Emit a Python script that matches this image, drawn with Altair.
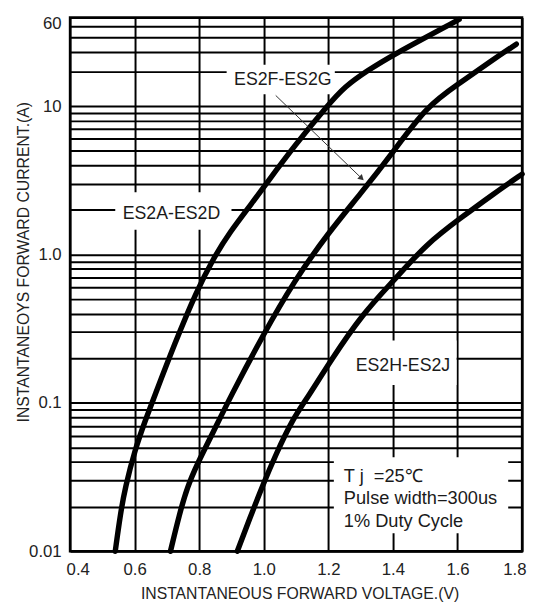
import altair as alt
import pandas as pd

# ---- data (forward voltage in V, forward current in A) ----
ES2A_V = [0.540, 0.556, 0.571, 0.601, 0.632, 0.659, 0.723, 0.793, 0.845, 0.894, 0.967, 1.007, 1.098, 1.196, 1.251, 1.321, 1.394, 1.605]
ES2A_I = [0.010, 0.0179, 0.027, 0.0483, 0.0751, 0.107, 0.248, 0.574, 0.95, 1.41, 2.27, 2.99, 5.51, 10.0, 14.9, 20.5, 27.6, 57.6]

ES2F_V = [0.711, 0.739, 0.763, 0.793, 0.845, 0.894, 0.995, 1.095, 1.199, 1.300, 1.400, 1.504, 1.605, 1.705, 1.782]
ES2F_I = [0.010, 0.0179, 0.027, 0.0384, 0.0645, 0.107, 0.280, 0.669, 1.39, 2.57, 4.88, 10.0, 15.8, 25.0, 35.0]

ES2H_V = [0.918, 0.955, 0.998, 1.037, 1.089, 1.135, 1.208, 1.306, 1.403, 1.504, 1.608, 1.708, 1.800]
ES2H_I = [0.010, 0.0163, 0.0283, 0.0447, 0.0775, 0.108, 0.194, 0.398, 0.669, 1.18, 1.75, 2.53, 3.48]

SERIES = ["ES2A-ES2D", "ES2F-ES2G", "ES2H-ES2J"]

X_TICKS = [0.4, 0.6, 0.8, 1.0, 1.2, 1.4, 1.6, 1.8]
Y_GRID = [0.01, 0.02, 0.03, 0.04, 0.05, 0.06, 0.07, 0.08, 0.09,
          0.1, 0.2, 0.3, 0.4, 0.5, 0.6, 0.7, 0.8, 0.9,
          1, 2, 3, 4, 5, 6, 7, 8, 9,
          10, 20, 30, 40, 50, 60]
Y_LABEL_VALUES = [0.01, 0.1, 1, 10, 60]
Y_LABEL_TEXT = ["0.01", "0.1", "1.0", "10", "60"]

NOTE_LINES = ["T j\u00a0\u00a0=25\u2103", "Pulse width=300us", "1% Duty Cycle"]

# annotation anchors (data units)
LABEL_V = [0.714, 1.059, 1.431]
LABEL_I = [1.88, 16.8, 0.176]
BOX_V1 = [0.540, 0.885, 1.208, 1.217]
BOX_V2 = [0.900, 1.220, 1.597, 1.757]
BOX_I1 = [1.47, 12.7, 0.132, 0.0132]
BOX_I2 = [2.63, 23.1, 0.263, 0.043]
ARROW = {"v": 1.037, "i": 12.4, "v2": 1.303, "i2": 3.26}
NOTE_POS = {"v": 1.248, "i": 0.0367}

FONT = "Liberation Sans"
PLOT_W, PLOT_H = 459, 542

rows = []
for name, vs, cs in zip(SERIES, [ES2A_V, ES2F_V, ES2H_V], [ES2A_I, ES2F_I, ES2H_I]):
    for v, c in zip(vs, cs):
        rows.append({"series": name, "v": v, "i": c})
curves_df = pd.DataFrame(rows)

xs = alt.Scale(domain=[0.4, 1.8], nice=False, zero=False)
# the printed graph paper squeezes the top part (10 .. 60) of the log axis
ys = alt.Scale(type="log", domain=[0.01, 10, 60], range=[PLOT_H, 90, 0], nice=False)

label_cond = " : ".join(
    [f"datum.value == {v} ? '{t}'" for v, t in zip(Y_LABEL_VALUES, Y_LABEL_TEXT)]
) + " : ''"

X_TITLE = "INSTANTANEOUS FORWARD VOLTAGE.(V)"
Y_TITLE = "INSTANTANEOYS FORWARD CURRENT.(A)"

x_axis = alt.Axis(
    values=X_TICKS, format=".1f", grid=True, gridColor="black", gridWidth=2,
    gridOpacity=1, domain=False, ticks=False, tickSize=0, labelPadding=11,
    labelFontSize=17, labelFont=FONT, labelColor="#222", labelFlush=True,
    labelFlushOffset=4, title=X_TITLE, titleFont=FONT, titleFontSize=16,
    titleFontWeight="normal", titleColor="#222", titleX=233, titleY=43,
    titleBaseline="middle", titleAlign="center",
)
y_axis = alt.Axis(
    values=Y_GRID, grid=True, gridColor="black", gridWidth=2, gridOpacity=1,
    domain=False, ticks=False, tickSize=0, labelPadding=9, labelFontSize=17,
    labelFont=FONT, labelColor="#222", labelOverlap=False, labelExpr=label_cond,
    labelOffset={"condition": {"test": "datum.value == 60", "value": 6}, "value": 0},
    title=Y_TITLE, titleFont=FONT, titleFontSize=16,
    titleFontWeight="normal", titleColor="#222", titleX=-47, titleY=248,
    titleAngle=270, titleBaseline="middle", titleAlign="center",
)


def X(field):
    return alt.X(field, scale=xs, axis=x_axis, title=X_TITLE)


def Y(field):
    return alt.Y(field, scale=ys, axis=y_axis, title=Y_TITLE)


boxes_df = pd.DataFrame({"v1": BOX_V1, "v2": BOX_V2, "i1": BOX_I1, "i2": BOX_I2})
boxes = alt.Chart(boxes_df).mark_rect(fill="white", strokeWidth=0).encode(
    x=X("v1:Q"), x2="v2:Q", y=Y("i1:Q"), y2="i2:Q",
)

curves = alt.Chart(curves_df).mark_line(
    color="black", strokeWidth=5.5, interpolate="basis", strokeCap="round"
).encode(
    x=X("v:Q"), y=Y("i:Q"), detail="series:N",
)

labels_df = pd.DataFrame({"name": SERIES, "v": LABEL_V, "i": LABEL_I})
labels = alt.Chart(labels_df).mark_text(
    font=FONT, fontSize=18, color="#1a1a1a", align="center", baseline="middle"
).encode(
    x=X("v:Q"), y=Y("i:Q"), text="name:N",
)

arrow_df = pd.DataFrame([ARROW])
arrow_line = alt.Chart(arrow_df).mark_rule(color="#333", strokeWidth=1).encode(
    x=X("v:Q"), x2="v2:Q", y=Y("i:Q"), y2="i2:Q",
)
arrow_head = alt.Chart(arrow_df).mark_point(
    shape="triangle-right", filled=True, color="#333", size=45, angle=44, opacity=1
).encode(
    x=X("v2:Q"), y=Y("i2:Q"),
)

note_df = pd.DataFrame([NOTE_POS])
note = alt.Chart(note_df).mark_text(
    text=NOTE_LINES, font=FONT, fontSize=18.5, lineHeight=22.5, color="#1a1a1a",
    align="left", baseline="top"
).encode(
    x=X("v:Q"), y=Y("i:Q"),
)

chart = alt.layer(boxes, curves, labels, arrow_line, arrow_head, note).properties(
    width=PLOT_W, height=PLOT_H,
    autosize=alt.AutoSizeParams(type="none"),
    padding={"left": 63, "top": 5, "right": 6, "bottom": 52},
).configure(background="white").configure_view(stroke="black", strokeWidth=2.5)

chart.save("out.html", embed_options={"renderer": "svg", "actions": False})
